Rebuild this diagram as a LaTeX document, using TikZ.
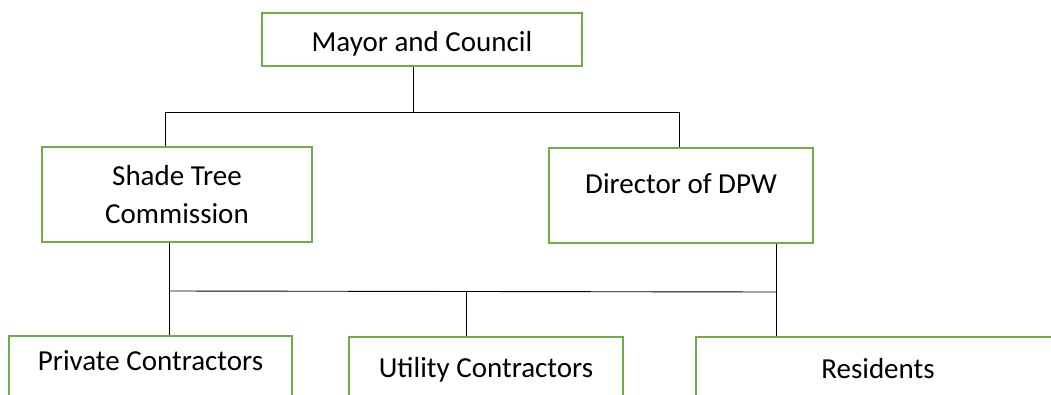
\documentclass[tikz,border=0pt]{standalone}
\usepackage{fontspec}
\setmainfont{Carlito}
\definecolor{boxgreen}{HTML}{70AD47}
\begin{document}
\begin{tikzpicture}[x=1pt,y=-1pt,
  orgbox/.style={draw=boxgreen, line width=2pt, inner sep=0pt, fill=white,
    font=\fontsize{29}{38}\selectfont},
  topbox/.style={orgbox, anchor=north},
  conn/.style={draw=black, line width=0.9pt}]
\useasboundingbox (0,0) rectangle (1051,394);
\clip (0,0) rectangle (1051,394);
\fill[white] (0,0) rectangle (1051,394);

\node[topbox, minimum width=320pt, text height=38pt, text depth=15pt] (mayor) at (422,12) {Mayor and Council};
\node[orgbox, minimum width=270pt, minimum height=95pt, align=center] (shade) at (177,194.5) {Shade Tree\\Commission};
\node[topbox, minimum width=264pt, text height=45pt, text depth=50pt] (dpw) at (681,147) {Director of DPW};
\node[topbox, minimum width=283pt, text height=34pt, text depth=70pt] (private) at (150.5,335) {Private Contractors};
\node[topbox, minimum width=274pt, text height=40pt, text depth=70pt] (utility) at (486,336) {Utility Contractors};
\node[topbox, minimum width=364pt, text height=41pt, text depth=70pt] (residents) at (878,336) {Residents};

\coordinate (busA1) at (165,112);
\coordinate (busA2) at (680,112);
\coordinate (busB1) at (170,291);
\coordinate (busB2) at (777,292);

\draw[conn] ([xshift=-9pt]mayor.south) -- (413,112);
\draw[conn] (busA1) -- (busA2);
\draw[conn] (busA1) -- ([xshift=-12pt]shade.north);
\draw[conn] (679,112) -- ([xshift=-2pt]dpw.north);

\draw[conn] ([xshift=-8pt]shade.south) -- ([xshift=18.5pt]private.north);
\draw[conn] (busB1) -- (busB2);
\draw[conn] (466,291.5) -- ([xshift=-20pt]utility.north);
\draw[conn] ([xshift=95pt]dpw.south) -- ([xshift=-102pt]residents.north);
\end{tikzpicture}
\end{document}
